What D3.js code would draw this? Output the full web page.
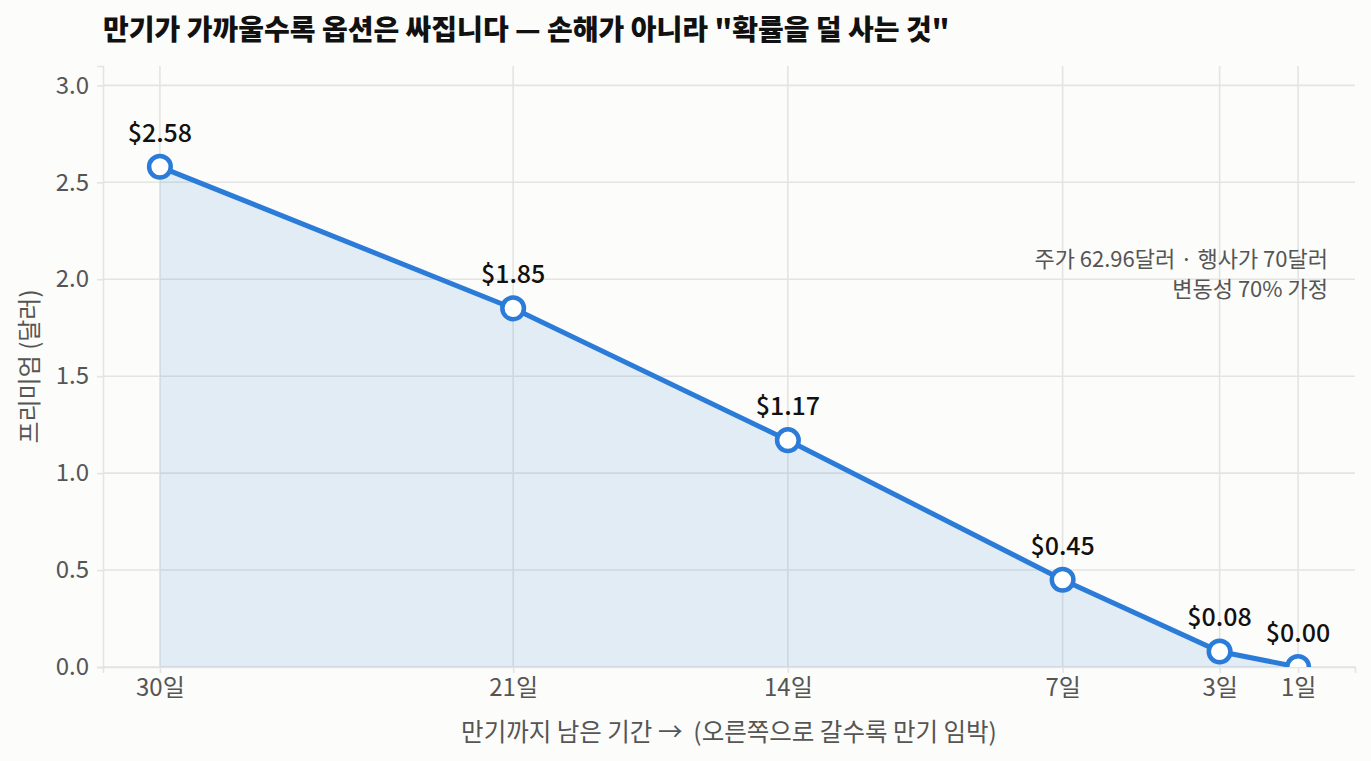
<!DOCTYPE html>
<html>
<head>
<meta charset="utf-8">
<script src="https://cdn.jsdelivr.net/npm/d3@7"></script>
<style>
  body { margin: 0; background: #fcfcfa; }
  svg { display: block; font-family: "Noto Sans CJK KR", "Noto Sans", sans-serif; }
</style>
</head>
<body>
<svg id="chart" width="1371" height="761"></svg>
<script>
var svg = d3.select("#chart"),
    width = +svg.attr("width"), height = +svg.attr("height")
var margin = {left: 103, right: 16, top: 66, bottom: 94}
var font = "'Noto Sans CJK KR', 'Noto Sans', sans-serif"

// Data
var daysLeft = [30, 21, 14, 7, 3, 1]
var premium = [2.58, 1.85, 1.17, 0.45, 0.08, 0.00]
var dayLabels = ["30일", "21일", "14일", "7일", "3일", "1일"]
var yTicks = [0, 0.5, 1.0, 1.5, 2.0, 2.5, 3.0]
var points = daysLeft.map((d, i) => ({day: d, value: premium[i], label: dayLabels[i]}))

var blue = "#2b7bd9", grid = "#e4e4e2", grey = "#555"

// Scales (x runs backwards: far expiry on the left)
var x = d3.scaleLinear().domain([31.45, -0.45]).range([margin.left, width - margin.right])
var y = d3.scaleLinear().domain([0, 3.1]).range([height - margin.bottom, margin.top])

// clip marks to the plot area, like the original
svg.append("defs").append("clipPath").attr("id", "plotClip").append("rect")
    .attr("x", margin.left).attr("y", margin.top)
    .attr("width", width - margin.left - margin.right)
    .attr("height", height - margin.top - margin.bottom)

// Grid
svg.append("g").selectAll("line").data(yTicks).enter().append("line")
    .attr("x1", margin.left).attr("x2", width - margin.right)
    .attr("y1", d => y(d)).attr("y2", d => y(d))
    .attr("stroke", grid).attr("stroke-width", 1.6)
svg.append("g").selectAll("line").data(daysLeft).enter().append("line")
    .attr("x1", d => x(d)).attr("x2", d => x(d))
    .attr("y1", y(0)).attr("y2", margin.top)
    .attr("stroke", grid).attr("stroke-width", 1.6)

// Axes
var yAxis = svg.append("g").attr("transform", "translate(" + margin.left + ",0)")
    .call(d3.axisLeft(y).tickValues(yTicks).tickFormat(d3.format(".1f")).tickSize(6).tickPadding(8))
var xAxis = svg.append("g").attr("transform", "translate(0," + y(0) + ")")
    .call(d3.axisBottom(x).tickValues(daysLeft).tickFormat((d, i) => dayLabels[i]).tickSize(6).tickPadding(6))
;[xAxis, yAxis].forEach(function(ax) {
    ax.attr("font-family", font)
    ax.select(".domain").attr("stroke", grid).attr("stroke-width", 1.6)
    ax.selectAll(".tick line").attr("stroke", grid).attr("stroke-width", 1.6)
    ax.selectAll(".tick text").attr("fill", grey).style("font-size", "24px")
})

// Area + line
var plot = svg.append("g").attr("clip-path", "url(#plotClip)")
plot.append("path").datum(points)
    .attr("d", d3.area().x(d => x(d.day)).y0(y(0)).y1(d => y(d.value)))
    .attr("fill", blue).attr("fill-opacity", 0.12)
plot.append("path").datum(points)
    .attr("d", d3.line().x(d => x(d.day)).y(d => y(d.value)))
    .attr("fill", "none").attr("stroke", blue).attr("stroke-width", 5)
plot.append("g").selectAll("circle").data(points).enter().append("circle")
    .attr("cx", d => x(d.day)).attr("cy", d => y(d.value)).attr("r", 10.8)
    .attr("fill", "white").attr("stroke", blue).attr("stroke-width", 4.5)

// Value labels
svg.append("g").selectAll("text").data(points).enter().append("text")
    .attr("x", d => x(d.day)).attr("y", d => y(d.value) - 25)
    .attr("text-anchor", "middle").attr("fill", "#111")
    .style("font-size", "25px").style("font-weight", 500)
    .text(d => "$" + d.value.toFixed(2))

// Title
svg.append("text").attr("x", margin.left).attr("y", 40)
    .style("font-size", "28px").style("font-weight", 900).attr("fill", "#111")
    .text("만기가 가까울수록 옵션은 싸집니다 — 손해가 아니라 \"확률을 덜 사는 것\"")

// Axis titles
svg.append("text").attr("x", (margin.left + width - margin.right) / 2).attr("y", 741)
    .attr("text-anchor", "middle").attr("fill", grey).style("font-size", "24.5px")
    .attr("xml:space", "preserve")
    .text("만기까지 남은 기간 →  (오른쪽으로 갈수록 만기 임박)")
svg.append("text")
    .attr("transform", "translate(38," + (margin.top + height - margin.bottom) / 2 + ") rotate(-90)")
    .attr("text-anchor", "middle").attr("fill", grey).style("font-size", "24px")
    .text("프리미엄 (달러)")

// Assumption note
var note = svg.append("text").attr("text-anchor", "end").attr("fill", grey).style("font-size", "22px")
note.append("tspan").attr("x", 1328).attr("y", 267).text("주가 62.96달러 · 행사가 70달러")
note.append("tspan").attr("x", 1328).attr("y", 297).text("변동성 70% 가정")
</script>
</body>
</html>
